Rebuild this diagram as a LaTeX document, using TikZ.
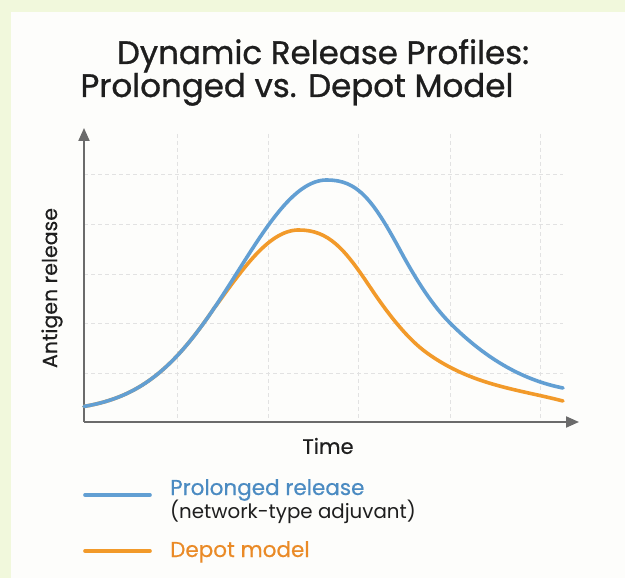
\documentclass[tikz,border=0pt]{standalone}
\usepackage{fontspec}
\setmainfont{Poppins}
\newfontfamily\medfont{Poppins}[FakeBold=0.9]
\newfontfamily\semifont{Poppins}[FakeBold=0.5]
\usetikzlibrary{arrows.meta}
\definecolor{rim}{HTML}{F1F8DC}
\definecolor{panel}{HTML}{FDFDFB}
\definecolor{axisgray}{HTML}{6B6B6B}
\definecolor{gridgray}{HTML}{E2E2E2}
\definecolor{blueline}{HTML}{629FD3}
\definecolor{orangeline}{HTML}{F29A2A}
\definecolor{bluetext}{HTML}{4B8BC2}
\definecolor{orangetext}{HTML}{EA8A26}
\definecolor{ink}{HTML}{1E1E1E}
\tikzset{
  axisline/.style={draw=axisgray, line width=2pt, -{Triangle[length=13pt,width=11pt]}},
  gridline/.style={draw=gridgray, line width=0.8pt, dash pattern=on 4pt off 3pt},
  curve/.style={line width=3.6pt, line cap=round, line join=round},
  titletext/.style={font=\medfont\fontsize{32.5}{36}\selectfont, text=ink, inner sep=0pt},
  labeltext/.style={font=\semifont\fontsize{20.5}{24}\selectfont, text=ink, inner sep=0pt},
  legendline/.style={line width=3.6pt, line cap=round},
}
\begin{document}
\begin{tikzpicture}[x=1pt,y=-1pt]
\useasboundingbox (0,0) rectangle (625,578);
\fill[rim] (0,0) rectangle (625,578);
\fill[panel] (11,12) rectangle (625,578);

% title
\node[titletext, anchor=base] (t1) at (323,64) {Dynamic Release Profiles:};
\node[titletext, anchor=base] (t2) at (297,97) {Prolonged vs. Depot Model};

% grid
\foreach \gx in {177,268,358,450,540} \draw[gridline] (\gx,134) -- (\gx,422);
\foreach \gy in {174,224,274,323,373} \draw[gridline] (84,\gy) -- (563,\gy);

% axes
\coordinate (origin) at (84,422);
\coordinate (ytip) at (84,128);
\coordinate (xtip) at (579,422);
\draw[axisline] (origin) -- (ytip);
\draw[axisline] (origin) -- (xtip);

% curves
\draw[curve, orangeline] plot[domain=84:215, samples=50] (\x, {412-232*exp(-0.5*((\x-327)/89)^2)})
  -- plot[domain=215:299, samples=40] (\x, {412-182*exp(-0.5*((\x-299)/80)^2)})
  .. controls (329,230) and (345,249.5) .. (370,287)
  .. controls (389,315.5) and (408,339.3) .. (427,353)
  .. controls (472,385.4) and (518,389.3) .. (563,401);
\draw[curve, blueline] plot[domain=84:327, samples=80] (\x, {412-232*exp(-0.5*((\x-327)/89)^2)})
  .. controls (357,180) and (372,198.2) .. (400,250)
  .. controls (417,281.5) and (433,306) .. (450,323)
  .. controls (488,361) and (525,380.4) .. (563,388);

% axis labels
\node[labeltext, rotate=90] (ylab) at (52,288) {Antigen release};
\node[labeltext, font=\semifont\fontsize{21}{24}\selectfont] (xlab) at (328,446) {Time};

% legend
\coordinate (l1a) at (85,495);
\coordinate (l1b) at (150,495);
\coordinate (l2a) at (85,551);
\coordinate (l2b) at (150,551);
\draw[legendline, blueline] (l1a) -- (l1b);
\draw[legendline, orangeline] (l2a) -- (l2b);
\node[anchor=base west, inner sep=0pt, text=bluetext, font=\semifont\fontsize{21.5}{24}\selectfont] (lg1) at (170,495) {Prolonged release};
\node[anchor=base west, inner sep=0pt, text=ink, font=\fontsize{19.8}{22}\selectfont] (lg1b) at (170,518) {(network-type adjuvant)};
\node[anchor=base west, inner sep=0pt, text=orangetext, font=\semifont\fontsize{21.5}{24}\selectfont] (lg2) at (170,557) {Depot model};
\end{tikzpicture}
\end{document}
